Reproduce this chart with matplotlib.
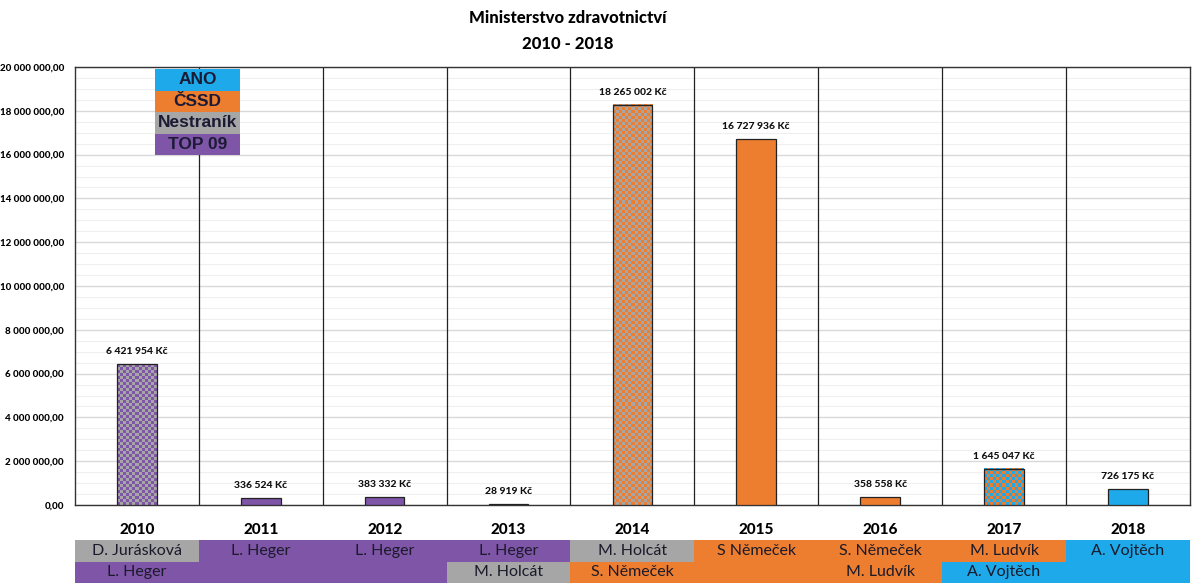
import matplotlib.pyplot as plt
import numpy as np
from matplotlib.patches import Rectangle
from matplotlib.colors import to_rgb

plt.rcParams['font.family'] = ['Lato', 'DejaVu Sans']

# ---- data ---------------------------------------------------------------

years = ["2010", "2011", "2012", "2013", "2014", "2015", "2016", "2017", "2018"]
amounts = [6421954, 336524, 383332, 28919, 18265002, 16727936, 358558, 1645047, 726175]
amount_labels = ["6 421 954 Kč", "336 524 Kč", "383 332 Kč", "28 919 Kč", "18 265 002 Kč",
                 "16 727 936 Kč", "358 558 Kč", "1 645 047 Kč", "726 175 Kč"]
# party (or pair of parties for mixed years) shown by the bar
bar_parties = [("TOP 09", "Nestraník"), ("TOP 09",), ("TOP 09",), ("TOP 09",),
               ("ČSSD", "Nestraník"), ("ČSSD",), ("ČSSD",), ("ČSSD", "ANO"), ("ANO",)]

party_names = ["ANO", "ČSSD", "Nestraník", "TOP 09"]
party_colors = ["#1EA9EA", "#EE7E2F", "#A6A6A6", "#7F55A8"]

row1_names = ["D. Jurásková", "L. Heger", "L. Heger", "L. Heger", "M. Holcát",
              "S Němeček", "S. Němeček", "M. Ludvík", "A. Vojtěch"]
row1_parties = ["Nestraník", "TOP 09", "TOP 09", "TOP 09", "Nestraník",
                "ČSSD", "ČSSD", "ČSSD", "ANO"]
row2_names = ["L. Heger", "", "", "M. Holcát", "S. Němeček", "", "M. Ludvík", "A. Vojtěch", ""]
row2_parties = ["TOP 09", "TOP 09", "TOP 09", "Nestraník", "ČSSD", "ČSSD", "ČSSD", "ANO", "ANO"]

yticks = list(range(0, 20000001, 2000000))
ytick_labels = [f"{v:,}".replace(",", " ") + ",00" for v in yticks]

color_of = dict(zip(party_names, party_colors))

# ---- figure -------------------------------------------------------------

fig = plt.figure(figsize=(12, 5.88), dpi=100)
ax = fig.add_axes([0.0625, 1 - 505 / 588, 0.929, 438 / 588])

x = np.arange(len(years))
bar_w = 0.32

# gridlines
ax.set_yticks(yticks)
ax.set_yticks(np.arange(0, 20000001, 500000), minor=True)
ax.grid(axis="y", which="major", color="#d9d9d9", lw=1.0)
ax.grid(axis="y", which="minor", color="#efefef", lw=0.8)
ax.set_axisbelow(True)
for b in np.arange(0.5, len(years) - 0.5, 1):
    ax.axvline(b, color="#222222", lw=0.9, zorder=2)

# bars
px_y = 20000000 / 438  # data units per pixel in y
for i, (val, parties) in enumerate(zip(amounts, bar_parties)):
    left = x[i] - bar_w / 2
    if len(parties) == 1:
        ax.bar(x[i], val, width=bar_w, color=color_of[parties[0]],
               edgecolor="#222222", lw=0.9, zorder=3)
    else:
        # checker pattern of the two parties' colours
        nx = 13
        ny = max(1, int(round(val / (3 * px_y))))
        c1 = np.array(to_rgb(color_of[parties[0]]))
        c2 = np.array(to_rgb(color_of[parties[1]]))
        ii, jj = np.meshgrid(np.arange(nx), np.arange(ny))
        mask = ((ii + jj) % 2 == 0)[..., None]
        img = np.where(mask, c1, c2)
        ax.imshow(img, extent=(left, left + bar_w, 0, val), origin="lower",
                  aspect="auto", interpolation="nearest", zorder=3)
        ax.add_patch(Rectangle((left, 0), bar_w, val, fill=False,
                               edgecolor="#222222", lw=0.9, zorder=4))
    ax.text(x[i], val + 8 * px_y, amount_labels[i], ha="center", va="bottom",
            fontsize=7.5, fontweight="black", color="#111111", zorder=5)

ax.set_xlim(-0.5, len(years) - 0.5)
ax.set_ylim(0, 20000000)

ax.set_yticklabels(ytick_labels, fontsize=7, fontweight="black")
ax.set_xticks(x)
ax.set_xticklabels(years, fontsize=11, fontweight="black")
ax.tick_params(axis="both", which="both", length=0)
ax.tick_params(axis="x", pad=13)
ax.tick_params(axis="y", pad=8)
for s in ax.spines.values():
    s.set_color("#333333")
    s.set_linewidth(1.0)

# legend boxes inside the chart
lx0, lx1 = 155 / 1200, 240 / 1200
ly_top, lh = 1 - 69 / 588, 21.5 / 588
for k, (name, col) in enumerate(zip(party_names, party_colors)):
    y0 = ly_top - (k + 1) * lh
    fig.patches.append(Rectangle((lx0, y0), lx1 - lx0, lh, transform=fig.transFigure,
                                 facecolor=col, edgecolor="none", zorder=10))
    fig.text((lx0 + lx1) / 2, y0 + lh / 2, name, ha="center", va="center",
             fontsize=12.5, fontweight="bold", color="#1b1b35", zorder=11,
             family=["Liberation Sans", "DejaVu Sans"])

# minister table below the chart
tab = fig.add_axes([0.0625, 1 - 583 / 588, 0.929, 43 / 588])
tab.set_xlim(-0.5, len(years) - 0.5)
tab.set_ylim(0, 2)
tab.axis("off")
for i in range(len(years)):
    for row, (names, parties) in enumerate([(row2_names, row2_parties), (row1_names, row1_parties)]):
        tab.add_patch(Rectangle((x[i] - 0.5, row), 1.0, 1, facecolor=color_of[parties[i]],
                                edgecolor="none"))
        if names[i]:
            tab.text(x[i], row + 0.5, names[i], ha="center", va="center",
                     fontsize=11.5, color="#1a1a2a")

fig.text(568 / 1200, 1 - 18 / 588, "Ministerstvo zdravotnictví", ha="center", va="center",
         fontsize=12, fontweight="black")
fig.text(568 / 1200, 1 - 44 / 588, "2010 - 2018", ha="center", va="center",
         fontsize=12, fontweight="black")

fig.savefig("out.png", dpi=100, facecolor="white")
